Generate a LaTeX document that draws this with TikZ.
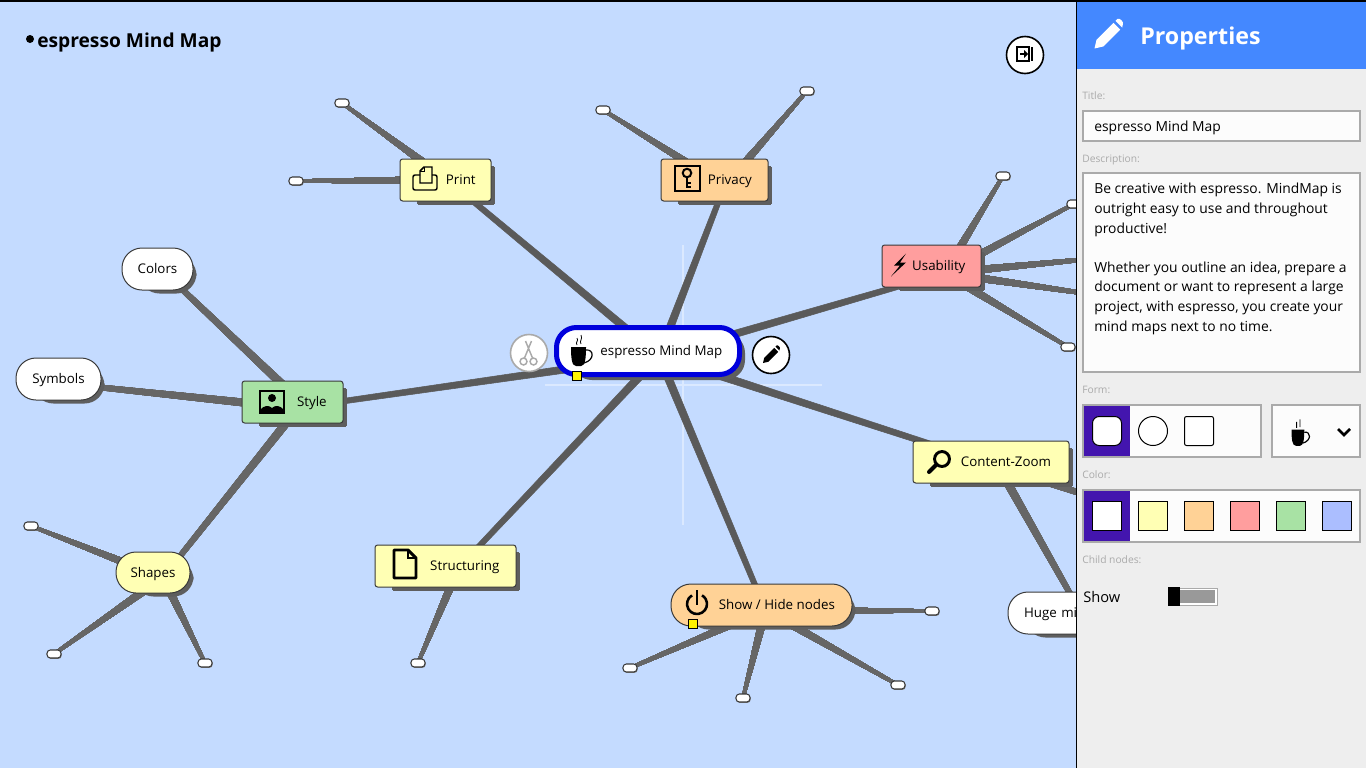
\documentclass[tikz,border=0pt]{standalone}
\usepackage{fontspec}
\setmainfont{Open Sans}
\usetikzlibrary{backgrounds,calc,shadows}

\definecolor{mapbg}{HTML}{C4DBFF}
\definecolor{linecol}{HTML}{5A5A5A}
\definecolor{sublinecol}{HTML}{666666}
\definecolor{shadecol}{HTML}{5E5E5E}
\definecolor{framecol}{HTML}{3A3A3A}
\definecolor{nodeyellow}{HTML}{FFFFB4}
\definecolor{nodeorange}{HTML}{FFD296}
\definecolor{nodered}{HTML}{FF9E9E}
\definecolor{nodegreen}{HTML}{A8E2A4}
\definecolor{nodeblue}{HTML}{ABBEFF}
\definecolor{centreblue}{HTML}{0000DC}
\definecolor{headblue}{HTML}{4488FF}
\definecolor{panelgrey}{HTML}{EEEEEE}
\definecolor{fieldline}{HTML}{AAAAAA}
\definecolor{selpurple}{HTML}{4315AE}

\newcommand{\branch}[5][linecol]{\draw[branch, fill=#1, draw=#1] ($(#2)!#4!90:(#3)$) -- ($(#2)!#4!-90:(#3)$) -- ($(#3)!#5!90:(#2)$) -- ($(#3)!#5!-90:(#2)$) -- cycle;}

\tikzset{
  x=0.75pt, y=-0.75pt,
  branch/.style={line width=0.4pt, line join=round},
  wh/.style 2 args={minimum width=#1*0.75pt, minimum height=#2*0.75pt, inner sep=0pt},
  topic/.style={draw=framecol, line width=0.75pt, rounded corners=2pt, text height=7.5pt, text depth=0.7pt, font=\fontsize{10pt}{11pt}\selectfont},
  pill/.style={topic, rounded corners=15pt},
  leaf/.style={wh={14}{8}, draw=framecol, fill=white, line width=0.8pt, rounded corners=2.5pt,
    drop shadow={shadow xshift=0.5pt, shadow yshift=-0.7pt, opacity=1, fill=shadecol!80}},
  grip/.style={wh={9}{9}, draw=black, fill=yellow, line width=0.6pt},
  roundbtn/.style={circle, wh={37}{37}, draw=black, fill=white, line width=1.2pt},
  caption/.style={anchor=west, inner sep=0pt, text=fieldline, font=\fontsize{7.7pt}{9pt}\selectfont},
  field/.style={anchor=north west, draw=fieldline, fill=white!99!black, line width=1.5pt},
  swatch/.style={wh={29}{29}, draw=black, line width=0.75pt},
  cuppic/.pic={
    \fill (-10,-4) -- (5,-4) .. controls (5,8) and (4,15) .. (0,15) -- (-5,15) .. controls (-9,15) and (-10,8) .. cycle;
    \draw[line width=0.9pt] (5,-1) .. controls (13,-2) and (14,9) .. (3,12);
    \draw[line width=0.6pt] (-4,-6) .. controls (-6,-9) and (-2,-10) .. (-4,-13);
    \draw[line width=0.6pt] (0,-7) .. controls (-2,-10) and (2,-12) .. (0,-16);
  },
  pencilpic/.pic={
    \fill[pic actions] (-10,10) -- (-8.5,3.5) -- (4,-9) -- (9,-4) -- (-3.5,8.5) -- cycle;
    \fill[pic actions] (5.5,-10.5) -- (7,-12) .. controls (8.5,-13) and (12,-9.5) .. (11,-8) -- (10.5,-5.5) -- cycle;
  },
  scissorpic/.pic={
    \draw[fieldline, line width=1.1pt] (-3,-12) -- (4,5) (3,-12) -- (-4,5);
    \draw[fieldline, line width=1.1pt] (-5,8.5) circle[radius=2.6pt] (5,8.5) circle[radius=2.6pt];
  },
  exitpic/.pic={
    \draw[line width=0.8pt] (-8,-7) rectangle (4,7);
    \draw[line width=2.2pt] (7,-7) -- (7,7);
    \draw[line width=1.4pt] (-5,0) -- (0,0);
    \fill (-1,-4) -- (3,0) -- (-1,4) -- cycle;
  },
  printpic/.pic={
    \draw[line width=1.1pt, rounded corners=1.5pt] (-5,-4) -- (-12,-4) -- (-12,11) -- (12,11) -- (12,-4) -- (7,-4);
    \draw[line width=1.1pt] (-5,4) -- (-5,-8) -- (-1,-12) -- (7,-12) -- (7,4) -- cycle;
    \draw[line width=0.7pt] (-5,-8) -- (-1,-8) -- (-1,-12);
  },
  keypic/.pic={
    \draw[line width=1.8pt] (-12,-13) rectangle (13,12);
    \draw[line width=1.5pt] (0,-6) circle[radius=3.2pt];
    \draw[line width=1.8pt] (0,-2) -- (0,9);
    \draw[line width=1.3pt] (0,4) -- (4,4) (0,8) -- (4,8);
  },
  boltpic/.pic={
    \fill (7,-12) -- (-5,0) -- (1,0) -- (-8,11) -- (7,-3) -- (1,-3) -- cycle;
  },
  imagepic/.pic={
    \draw[line width=2.2pt] (-12,-11) rectangle (12,11);
    \fill (0,-4) circle[radius=3pt];
    \fill (-12,11) -- (-12,8) .. controls (-8,3) and (-3,3) .. (0,6) .. controls (3,3) and (8,3) .. (12,8) -- (12,11) -- cycle;
  },
  docpic/.pic={
    \draw[line width=2.2pt, line join=round] (-11,-14) -- (3,-14) -- (11,-6) -- (11,14) -- (-11,14) -- cycle;
    \draw[line width=2.2pt] (3,-14) -- (3,-6) -- (11,-6);
  },
  lenspic/.pic={
    \draw[line width=2.2pt] (3,-2) circle[radius=5.6pt];
    \draw[line width=3pt, line cap=round] (-2.5,3.5) -- (-10,11);
  },
  powerpic/.pic={
    \draw[line width=1.9pt] (-5,-8.66) arc[start angle=120, end angle=420, radius=7.5pt];
    \draw[line width=1.9pt] (0,-14) -- (0,1);
  },
  chevronpic/.pic={
    \draw[line width=2pt] (-6,-3) -- (0,3) -- (6,-3);
  },
}

\begin{document}
\begin{tikzpicture}
  \useasboundingbox (0,0) rectangle (1366,768);

  %% topics
  \node [topic, wh={91}{42}, fill=nodeyellow] (pri) at (445.5,180) {\hspace*{23pt}Print};
  \node [topic, wh={107}{42}, fill=nodeorange] (priv) at (714.5,180) {\hspace*{23pt}Privacy};
  \node [topic, wh={99}{42}, fill=nodered] (uni) at (931.5,266) {\hspace*{11pt}Usability};
  \node [topic, wh={101}{42}, fill=nodegreen] (sty) at (292.5,402) {\hspace*{29pt}Style};
  \node [topic, wh={141}{42}, fill=nodeyellow] (struc) at (445.5,566) {\hspace*{29pt}Structuring};
  \node [topic, wh={156}{42}, fill=nodeyellow] (con) at (991,462) {\hspace*{22.5pt}Content-Zoom};
  \node [pill, wh={181}{42}, fill=nodeorange] (shw) at (761.5,605) {\hspace*{23pt}Show / Hide nodes};
  \node [pill, wh={71}{42}, fill=white] (colr) at (157.5,269) {Colors};
  \node [pill, wh={85}{42}, fill=white] (sym) at (58.5,379) {Symbols};
  \node [pill, wh={74}{41}, fill=nodeyellow] (sha) at (153,572.5) {Shapes};
  \node [pill, wh={146}{42}, fill=white, text width=85.5pt, align=left] (huge) at (1081,613) {Huge mi};
  \node [pill, wh={183}{47}, fill=white, draw=centreblue, line width=3.75pt] (cen) at (648,351) {\hspace*{20pt}espresso Mind Map};

  %% where the branches meet inside a topic
  \coordinate (cenhub) at ($(cen)+(11,5)$);
  \coordinate (prihub) at ($(pri)+(2,0)$);
  \coordinate (privhub) at ($(priv)+(10,6)$);
  \coordinate (unihub) at ($(uni)+(13,7)$);
  \coordinate (styhub) at ($(sty)+(3,6)$);
  \coordinate (stytop) at ($(sty)+(3,-5)$);
  \coordinate (stybot) at ($(sty)+(8,3)$);
  \coordinate (colrhub) at ($(colr)+(0,-3)$);
  \coordinate (symhub) at ($(sym)+(0,4)$);
  \coordinate (shahub) at ($(sha)+(10,5)$);
  \coordinate (struchub) at ($(struc)+(13,2)$);
  \coordinate (shwhub) at ($(shw)+(4,5)$);
  \coordinate (conhub) at ($(con)+(7,4)$);

  %% leaves
  \foreach \nm/\x/\y in {l1/342/103, l2/296/181, l3/603/110, l4/807/91, l5/1003/176, l6/1074/204,
      l7/31/526, l8/54/654, l9/205/663, l10/418/663, l11/630/668, l12/743/698, l13/898/685, l14/932/611, l15/1068/347}
    \node [leaf] (\nm) at (\x,\y) {};
  \coordinate (off1) at (1110,257);
  \coordinate (off2) at (1110,297);
  \coordinate (off3) at (1110,503);

  \begin{scope}[on background layer]
    \fill[mapbg] (0,0) rectangle (1366,768);
    \coordinate (crossn) at (683,245);
    \coordinate (crosss) at (683,525);
    \coordinate (crossw) at (545,385);
    \coordinate (crosse) at (822,385);
    \draw[white, opacity=0.4, line width=0.9pt] (crossn) -- (crosss) (crossw) -- (crosse);
    %% branches of the centre
    \foreach \tg in {prihub,privhub,unihub,styhub,struchub,shwhub,conhub}
      \branch{cenhub}{\tg}{3pt}{1.9pt}
    %% branches to the next level
    \foreach \fr/\tg in {stytop/colrhub,styhub/symhub,stybot/shahub,conhub/huge,conhub/off3}
      \branch[sublinecol]{\fr}{\tg}{3pt}{1.7pt}
    \foreach \fr/\tg in {prihub/l1,prihub/l2,privhub/l3,privhub/l4,unihub/l5,unihub/l6,unihub/off1,unihub/off2,unihub/l15,
        shahub/l7,shahub/l8,shahub/l9,struchub/l10,shwhub/l11,shwhub/l12,shwhub/l13,shwhub/l14}
      \branch[sublinecol]{\fr}{\tg}{3pt}{1pt}
    %% shadows
    \foreach \nm in {pri,priv,uni,sty,struc,con}
      \fill[shadecol, rounded corners=2pt] ($(\nm.south west)+(18,3)$) -- ($(\nm.south east)+(3,3)$) -- ($(\nm.north east)+(3,8)$) -- ($(\nm.north west)+(18,8)$) -- cycle;
    \foreach \nm in {shw,colr,sym,sha,huge,cen}
      \fill[shadecol, rounded corners=15pt] ($(\nm.south west)+(18,3)$) -- ($(\nm.south east)+(3,3)$) -- ($(\nm.north east)+(3,8)$) -- ($(\nm.north west)+(18,8)$) -- cycle;
  \end{scope}

  %% icons of the topics
  \pic at (581,351) {cuppic};
  \pic at (425,179) {printpic};
  \pic at (687,179) {keypic};
  \pic at (899,265.5) {boltpic};
  \pic at (272,402) {imagepic};
  \pic at (405,564) {docpic};
  \pic at (939,461) {lenspic};
  \pic at (697,604) {powerpic};

  %% map tools
  \node [grip] (gripc) at (576.5,375.5) {};
  \node [grip] (grips) at (693,624) {};
  \node [roundbtn, draw=fieldline] (cutbtn) at (529,353) {};
  \pic at (528.5,353) {scissorpic};
  \node [roundbtn] (editbtn) at (771,355) {};
  \pic[scale=0.8] at (771,355) {pencilpic};
  \node [roundbtn] (exitbtn) at (1025,55) {};
  \pic at (1025,54) {exitpic};
  \fill (30,39) circle[radius=3pt];
  \node [anchor=west, inner sep=0pt, font=\fontsize{14.4pt}{16pt}\selectfont\bfseries] (maptitle) at (37,43) {espresso Mind Map};

  %% panel
  \node [anchor=north west, wh={289}{768}, fill=panelgrey] (panel) at (1077,0) {};
  \node [anchor=north west, wh={289}{67}, fill=headblue] (head) at (1077,2) {};
  \pic[fill=white, scale=1.35] at (1108,35) {pencilpic};
  \node [anchor=west, inner sep=0pt, text=white, font=\fontsize{17.4pt}{20pt}\selectfont\bfseries] (headtxt) at (1140,38) {Properties};

  \node [caption] (lbltitle) at (1082,95.5) {Title:};
  \node [field, wh={277}{30}] (fldtitle) at (1082,110) {};
  \node [anchor=west, inner sep=0pt, font=\fontsize{10.4pt}{11pt}\selectfont] (txttitle) at (1094,128) {espresso Mind Map};
  \node [caption] (lbldesc) at (1082,159.5) {Description:};
  \node [field, wh={277}{199}] (flddesc) at (1082,172) {};
  \node [anchor=north west, inner sep=0pt, align=left, font=\fontsize{10.4pt}{14.7pt}\selectfont] (txtdesc) at (1094,183) {Be creative with espresso. MindMap is\\outright easy to use and throughout\\productive!\\[14.7pt]Whether you outline an idea, prepare a\\document or want to represent a large\\project, with espresso, you create your\\mind maps next to no time.};

  \node [caption] (lblform) at (1082,389.5) {Form:};
  \node [field, wh={178}{52}] (fldform) at (1082,404) {};
  \node [anchor=north west, wh={46}{50}, fill=selpurple] (selform) at (1084,406) {};
  \node [swatch, fill=white, rounded corners=5pt] (frm1) at (1107,431) {};
  \node [swatch, fill=white, circle] (frm2) at (1153,431) {};
  \node [swatch, fill=white, rounded corners=1.5pt] (frm3) at (1199,431) {};
  \node [field, wh={88}{52}] (fldicon) at (1271,404) {};
  \pic[scale=0.85] at (1300,433) {cuppic};
  \pic at (1344,432) {chevronpic};

  \node [caption] (lblcolor) at (1082,474.5) {Color:};
  \node [field, wh={277}{52}] (fldcolor) at (1082,489) {};
  \node [anchor=north west, wh={46}{50}, fill=selpurple] (selcolor) at (1084,491) {};
  \foreach \i/\x/\col in {1/1107/white,2/1153/nodeyellow,3/1199/nodeorange,4/1245/nodered,5/1291/nodegreen,6/1337/nodeblue}
    \node [swatch, fill=\col] (col\i) at (\x,516) {};

  \node [caption] (lblchild) at (1082,559.5) {Child nodes:};
  \node [anchor=west, inner sep=0pt, font=\fontsize{11pt}{12pt}\selectfont] (lblshow) at (1083,597) {Show};
  \node [anchor=north west, wh={48}{17}, draw=fieldline, fill=white, line width=0.9pt] (tgl) at (1169,587.5) {};
  \node [anchor=north west, wh={35}{13}, fill=fieldline!90!black] (tglfill) at (1180,589.5) {};
  \node [anchor=north west, wh={12}{19}, fill=black] (tglthumb) at (1168,587) {};

  \fill (0,0) rectangle (1366,1.5);
  \fill (1076,0) rectangle (1077,768);
\end{tikzpicture}
\end{document}
